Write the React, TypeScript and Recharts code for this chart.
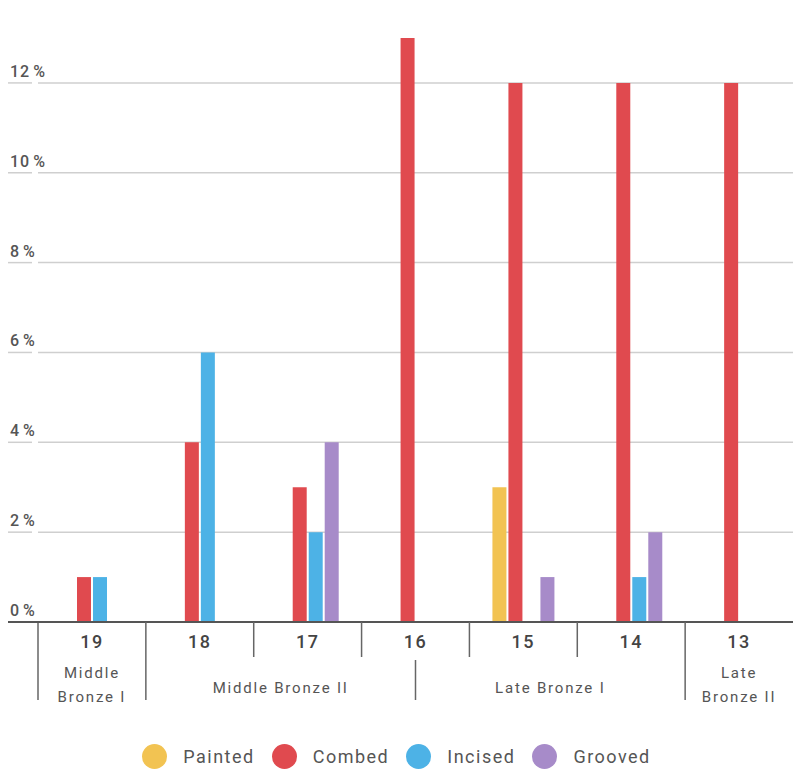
import React from 'react';
import { BarChart, Bar, XAxis, YAxis, CartesianGrid } from 'recharts';

const categories = ['19', '18', '17', '16', '15', '14', '13'];
const painted = [0, 0, 0, 0, 3, 0, 0];
const combed = [1, 4, 3, 13, 12, 12, 12];
const incised = [1, 6, 2, 0, 0, 1, 0];
const grooved = [0, 0, 4, 0, 1, 2, 0];
const yTicks = [0, 2, 4, 6, 8, 10, 12];
const gridValues = [2, 4, 6, 8, 10, 12];
const periods = [
  { lines: ['Middle', 'Bronze I'], from: 0, to: 1 },
  { lines: ['Middle Bronze II'], from: 1, to: 3.5 },
  { lines: ['Late Bronze I'], from: 3.5, to: 6 },
  { lines: ['Late', 'Bronze II'], from: 6, to: 7 },
];
const series = [
  { key: 'Painted', color: '#F2C352' },
  { key: 'Combed', color: '#E04A4F' },
  { key: 'Incised', color: '#4DB2E6' },
  { key: 'Grooved', color: '#A78BC9' },
];

const data = categories.map((c, i) => ({
  cat: c,
  Painted: painted[i],
  Combed: combed[i],
  Incised: incised[i],
  Grooved: grooved[i],
}));

const FONT = 'Roboto, "Open Sans", sans-serif';
const TEXT = '#555';

const YTick = (props: any) => {
  const { x, y, payload } = props;
  const v = payload.value;
  return (
    <g>
      {v !== 0 && <line x1={8} x2={x + 2} y1={y} y2={y} stroke="#cfcfcf" strokeWidth={1.5} />}
      <text x={10} y={y - 6} fill={TEXT} fontSize={16} fontWeight={500} fontFamily={FONT} letterSpacing={1}>
        {`${v}`}
        <tspan dx={3}>%</tspan>
      </text>
    </g>
  );
};

const XTick = (props: any) => {
  const { x, y, payload, index } = props;
  const half = payload.offset || 54;
  const band = half * 2;
  const left = x - half;
  const top = y;
  const extras: any[] = [];
  if (index === 0) {
    const start = left;
    const boundaries = [0, 1, 2, 3, 4, 5, 6];
    const longIdx = [0, 1, 6];
    boundaries.forEach((b) => {
      const bx = start + b * band;
      const isLong = longIdx.includes(b);
      extras.push(
        <line key={'b' + b} x1={bx} x2={bx} y1={top} y2={isLong ? top + 78 : top + 35} stroke="#666" strokeWidth={1.5} />
      );
    });
    extras.push(
      <line key="mid" x1={start + 3.5 * band} x2={start + 3.5 * band} y1={top + 38} y2={top + 78} stroke="#666" strokeWidth={1.5} />
    );
    periods.forEach((p, pi) => {
      const cx = start + ((p.from + p.to) / 2) * band;
      if (p.lines.length === 1) {
        extras.push(
          <text key={'p' + pi} x={cx} y={top + 71} textAnchor="middle" fill={TEXT} fontSize={15} fontFamily={FONT} letterSpacing={1.8}>
            {p.lines[0]}
          </text>
        );
      } else {
        p.lines.forEach((ln, li) => {
          extras.push(
            <text key={'p' + pi + '-' + li} x={cx} y={top + 56 + li * 24} textAnchor="middle" fill={TEXT} fontSize={15} fontFamily={FONT} letterSpacing={1.8}>
              {ln}
            </text>
          );
        });
      }
    });
  }
  return (
    <g>
      {extras}
      <text x={x} y={top + 26} textAnchor="middle" fill="#444" fontSize={18} fontWeight={500} fontFamily={FONT} letterSpacing={1.5}>
        {payload.value}
      </text>
    </g>
  );
};

export default function App() {
  return (
    <div style={{ position: 'absolute', left: 0, top: 0, width: 793, height: 773, background: '#fff' }}>
      <BarChart
        width={793}
        height={773}
        data={data}
        margin={{ top: 38, right: 0, bottom: 0, left: 0 }}
        barSize={14}
        barGap={2}
      >
        <CartesianGrid horizontal vertical={false} horizontalValues={gridValues} stroke="#cfcfcf" strokeWidth={1.5} />
        <YAxis
          width={38}
          domain={[0, 13]}
          ticks={yTicks}
          axisLine={false}
          tickLine={false}
          tick={<YTick />}
          interval={0}
        />
        <XAxis
          dataKey="cat"
          height={151}
          axisLine={{ stroke: '#555', strokeWidth: 2 }}
          tickLine={false}
          tickSize={0}
          tickMargin={0}
          tick={<XTick />}
          interval={0}
        />
        {series.map((s) => (
          <Bar key={s.key} dataKey={s.key} fill={s.color} isAnimationActive={false} />
        ))}
      </BarChart>
      <svg width={40} height={4} style={{ position: 'absolute', left: 0, top: 620 }}>
        <line x1={8} x2={40} y1={2} y2={2} stroke="#555" strokeWidth={2} />
      </svg>
      <div
        style={{
          position: 'absolute',
          left: 0,
          width: 793,
          top: 744,
          display: 'flex',
          justifyContent: 'center',
          alignItems: 'center',
          fontFamily: FONT,
          fontSize: 18,
          fontWeight: 400,
          letterSpacing: 1.5,
          color: TEXT,
        }}
      >
        {series.map((s, i) => (
          <div key={s.key} style={{ display: 'flex', alignItems: 'center', marginLeft: i === 0 ? 0 : 17 }}>
            <span style={{ width: 25, height: 25, borderRadius: 13, background: s.color, display: 'inline-block', marginRight: 16 }} />
            <span>{s.key}</span>
          </div>
        ))}
      </div>
    </div>
  );
}
